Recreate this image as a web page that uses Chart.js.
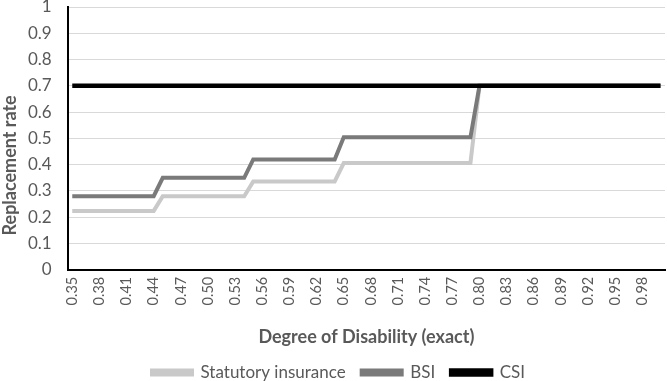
<!DOCTYPE html>
<html>
<head>
<meta charset="utf-8">
<script src="https://cdn.jsdelivr.net/npm/chart.js@4/dist/chart.umd.min.js"></script>
<style>
html,body{margin:0;padding:0;background:#fff;}
#wrap{width:667px;height:381px;position:relative;}
</style>
</head>
<body>
<div id="wrap"><canvas id="c"></canvas></div>
<script>
const categories = ['0.35','0.36','0.37','0.38','0.39','0.40','0.41','0.42','0.43','0.44',
  '0.45','0.46','0.47','0.48','0.49','0.50','0.51','0.52','0.53','0.54',
  '0.55','0.56','0.57','0.58','0.59','0.60','0.61','0.62','0.63','0.64',
  '0.65','0.66','0.67','0.68','0.69','0.70','0.71','0.72','0.73','0.74',
  '0.75','0.76','0.77','0.78','0.79','0.80','0.81','0.82','0.83','0.84',
  '0.85','0.86','0.87','0.88','0.89','0.90','0.91','0.92','0.93','0.94',
  '0.95','0.96','0.97','0.98','0.99','1.00'];
const statutory = [0.224,0.224,0.224,0.224,0.224,0.224,0.224,0.224,0.224,0.224,
  0.28,0.28,0.28,0.28,0.28,0.28,0.28,0.28,0.28,0.28,
  0.336,0.336,0.336,0.336,0.336,0.336,0.336,0.336,0.336,0.336,
  0.406,0.406,0.406,0.406,0.406,0.406,0.406,0.406,0.406,0.406,
  0.406,0.406,0.406,0.406,0.406,0.70,0.70,0.70,0.70,0.70,
  0.70,0.70,0.70,0.70,0.70,0.70,0.70,0.70,0.70,0.70,
  0.70,0.70,0.70,0.70,0.70,0.70];
const bsi = [0.28,0.28,0.28,0.28,0.28,0.28,0.28,0.28,0.28,0.28,
  0.35,0.35,0.35,0.35,0.35,0.35,0.35,0.35,0.35,0.35,
  0.42,0.42,0.42,0.42,0.42,0.42,0.42,0.42,0.42,0.42,
  0.504,0.504,0.504,0.504,0.504,0.504,0.504,0.504,0.504,0.504,
  0.504,0.504,0.504,0.504,0.504,0.70,0.70,0.70,0.70,0.70,
  0.70,0.70,0.70,0.70,0.70,0.70,0.70,0.70,0.70,0.70,
  0.70,0.70,0.70,0.70,0.70,0.70];
const csi = [0.70,0.70,0.70,0.70,0.70,0.70,0.70,0.70,0.70,0.70,
  0.70,0.70,0.70,0.70,0.70,0.70,0.70,0.70,0.70,0.70,
  0.70,0.70,0.70,0.70,0.70,0.70,0.70,0.70,0.70,0.70,
  0.70,0.70,0.70,0.70,0.70,0.70,0.70,0.70,0.70,0.70,
  0.70,0.70,0.70,0.70,0.70,0.70,0.70,0.70,0.70,0.70,
  0.70,0.70,0.70,0.70,0.70,0.70,0.70,0.70,0.70,0.70,
  0.70,0.70,0.70,0.70,0.70,0.70];
const seriesNames = ['Statutory insurance','BSI','CSI'];
const xTitle = 'Degree of Disability (exact)';
const yTitle = 'Replacement rate';

const FONT = 'Lato, "Open Sans", sans-serif';
const TXT = '#595959';

const yTitlePlugin = {
  id: 'yTitleDraw',
  afterDraw(chart) {
    const ctx = chart.ctx, a = chart.chartArea;
    ctx.save();
    ctx.font = 'bold 18px ' + FONT;
    ctx.fillStyle = TXT;
    ctx.textAlign = 'center';
    ctx.textBaseline = 'middle';
    ctx.translate(10, (a.top + a.bottom) / 2 + 27);
    ctx.rotate(-Math.PI / 2);
    ctx.fillText(yTitle, 0, 0);
    ctx.restore();
  }
};

new Chart(document.getElementById('c'), {
  type: 'line',
  data: {
    labels: categories,
    datasets: [
      {label: seriesNames[0], data: statutory, borderColor:'#c9c9c9', backgroundColor:'#c9c9c9', borderWidth:4, pointRadius:0, tension:0, order:2},
      {label: seriesNames[1], data: bsi, borderColor:'#7a7a7a', backgroundColor:'#7a7a7a', borderWidth:4, pointRadius:0, tension:0, order:1},
      {label: seriesNames[2], data: csi, borderColor:'#000000', backgroundColor:'#000000', borderWidth:4.5, pointRadius:0, tension:0, order:0}
    ]
  },
  plugins: [yTitlePlugin],
  options: {
    responsive: true,
    maintainAspectRatio: false,
    animation: false,
    layout: {padding: {left: 12, right: 2, top: 0, bottom: -10}},
    plugins: {
      tooltip: {enabled:false},
      legend: {
        position: 'bottom',
        labels: {
          font: {family: FONT, size: 17},
          color: TXT,
          boxWidth: 40,
          boxHeight: 4,
          padding: 16,
          sort: function(a, b){ return a.datasetIndex - b.datasetIndex; }
        }
      }
    },
    scales: {
      x: {
        offset: true,
        grid: {display: false, drawTicks: false},
        border: {display: true, color: '#000', width: 2},
        ticks: {
          autoSkip: false,
          maxRotation: 90,
          minRotation: 90,
          padding: 7,
          color: TXT,
          font: {family: FONT, size: 14.5},
          callback: function(v, i){ return i % 3 === 0 ? categories[i] : null; }
        },
        title: {display: true, text: xTitle, color: TXT, font: {family: FONT, size: 18, weight: 'bold'}, padding: {top: 14, bottom: 0}}
      },
      y: {
        min: 0, max: 1,
        grid: {color: '#d9d9d9', lineWidth: 1, drawTicks: false},
        border: {display: true, color: '#000', width: 2},
        ticks: {stepSize: 0.1, padding: 16, color: TXT, font: {family: FONT, size: 17},
          callback: function(v){ return String(Math.round(v * 10) / 10); }},
        afterFit: function(s){ s.paddingTop = 7; }
      }
    }
  }
});
</script>
</body>
</html>
